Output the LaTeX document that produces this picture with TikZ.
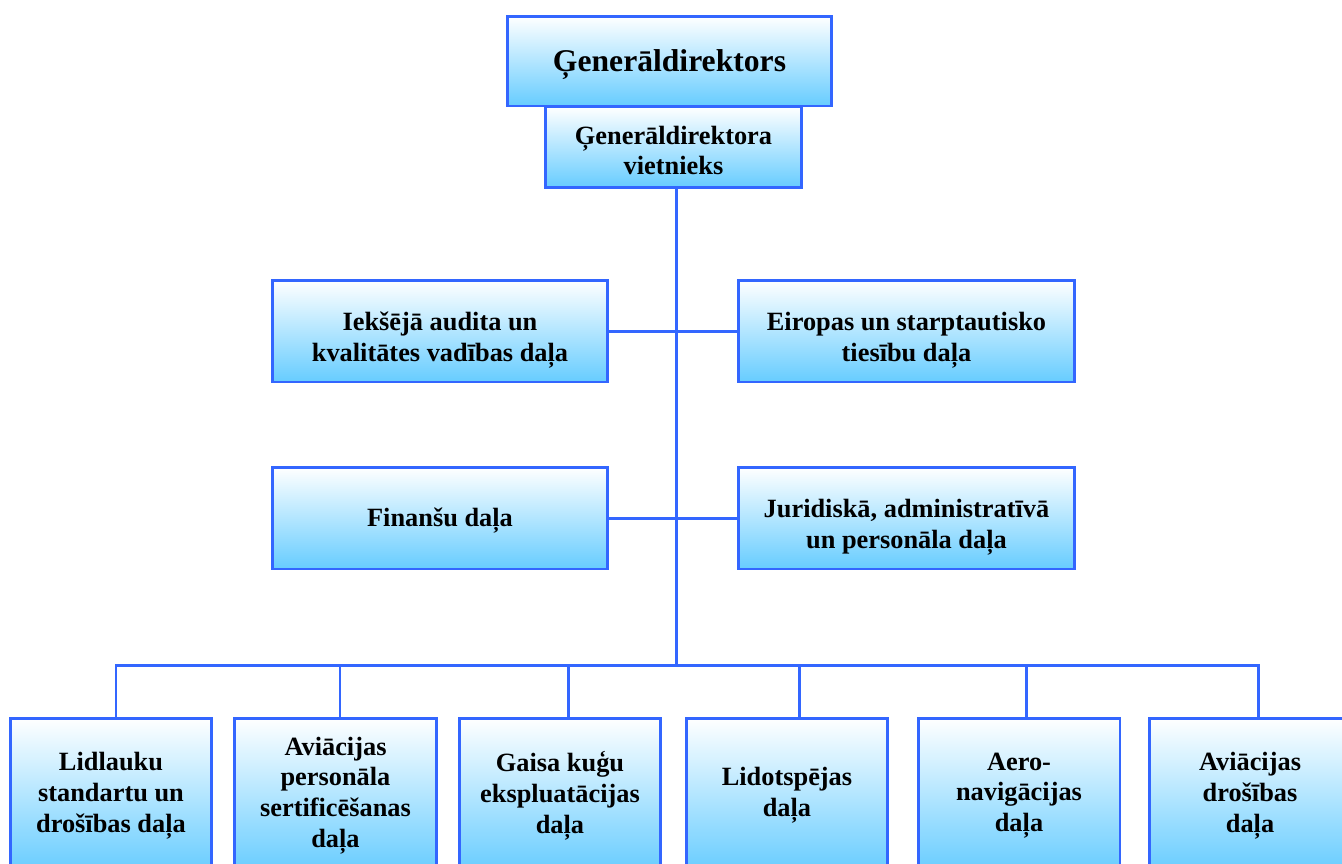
\documentclass[tikz,border=0pt]{standalone}
\usepackage{fontspec}
\setmainfont{Liberation Serif}
\definecolor{frameblue}{RGB}{51,102,255}
\definecolor{skyfill}{RGB}{102,204,255}
\tikzset{
  unit/.style={draw=frameblue, line width=1.7pt, top color=white, bottom color=skyfill,
    align=center, inner sep=2pt, font=\bfseries\fontsize{15}{17.5}\selectfont},
  sideunit/.style={unit, minimum width=6.72cm, minimum height=2.04cm, text height=38.5pt},
  link/.style={frameblue, line width=1.7pt},
}
\begin{document}
\begin{tikzpicture}[x=0.02cm,y=-0.02cm]
	\useasboundingbox (0,0) rectangle (1342,863);
	% top of the chart
	\node[unit, minimum width=5.14cm, minimum height=1.62cm, text height=32pt] (viet) at (673.5,147) {Ģenerāldirektora\\vietnieks};
	\node[unit, minimum width=6.5cm, minimum height=1.8cm, text height=17pt, font=\bfseries\fontsize{18}{21}\selectfont] (gd) at (669.5,61) {Ģenerāldirektors};
	\coordinate (hub) at (676,665);
	\draw[link] (viet.south -| hub) -- (hub);
	% side units
	\node[sideunit] (audit) at (440,331) {Iekšējā audita un\\kvalitātes vadības daļa};
	\node[sideunit] (euro) at (906.5,331) {Eiropas un starptautisko\\tiesību daļa};
	\node[sideunit, text height=14pt] (fin) at (440,518) {Finanšu daļa};
	\node[sideunit] (jur) at (906.5,518) {Juridiskā, administratīvā\\un personāla daļa};
	\draw[link] (audit.east) -- (euro.west);
	\draw[link] (fin.east) -- (jur.west);
	% departments
	\foreach \n/\x/\o/\t in {1/111/5/{Lidlauku\\standartu un\\drošības daļa},
			2/335.5/4.5/{Aviācijas\\personāla\\sertificēšanas\\daļa},
			3/560/8/{Gaisa kuģu\\ekspluatācijas\\daļa},
			4/787/12/{Lidotspējas\\daļa},
			5/1019/7/{Aero-\\navigācijas\\daļa},
			6/1250/8/{Aviācijas\\drošības\\daļa}}
		{
			\node[unit, minimum width=4.04cm, minimum height=3.1cm] (b\n) at (\x,795.5) {\t};
			\draw[link] (hub) -| ([xshift=\o*0.02cm]b\n.north);
		}
\end{tikzpicture}
\end{document}
